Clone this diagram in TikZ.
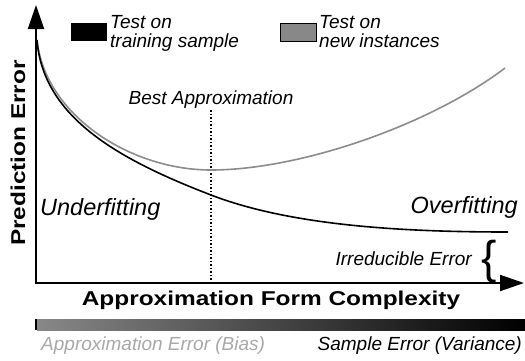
\documentclass[tikz,border=0pt]{standalone}
\usepackage{fontspec}
\usepackage{graphicx}
\setmainfont{Liberation Sans}
\usetikzlibrary{arrows.meta}
\definecolor{curvegray}{RGB}{140,140,140}
\definecolor{boxgray}{RGB}{136,136,136}
\definecolor{biasgray}{RGB}{168,168,168}

\begin{document}
\begin{tikzpicture}[x=1pt, y=-1pt,
  axes/.style={line width=2pt, {Triangle[length=24pt,width=16pt]}-{Triangle[length=24pt,width=16pt]}},
  note/.style={font=\fontsize{19}{19}\selectfont\itshape, inner sep=0pt},
  bignote/.style={font=\fontsize{23.5}{23.5}\selectfont\itshape, inner sep=0pt},
  axislabel/.style={font=\fontsize{20}{20}\selectfont\bfseries, inner sep=0pt}]
  \useasboundingbox (0,0) rectangle (525,360);

  \coordinate (ytop) at (36,5);
  \coordinate (origin) at (36,283);
  \coordinate (xend) at (524,283);
  \coordinate (start) at (37,40);

  % legend
  \fill (71,23) rectangle (107,41);
  \node[note, anchor=north west, align=left] (train) at (110,15.4) {Test on\\training sample};
  \filldraw[fill=boxgray, draw=black, line width=1pt] (280,23) rectangle (316,41);
  \node[note, anchor=north west, align=left] (new) at (319,15.4) {Test on\\new instances};

  % best approximation
  \draw[dotted, line width=1.5pt] (211,110) -- (211,283);
  \node[note, anchor=base] (best) at (211,104) {Best Approximation};

  \draw[curvegray, line width=1.6pt] (start) .. controls (45,115) and (130,170) .. (211,170)
    .. controls (300,170) and (430,125) .. (505,68); % new instances
  \draw[black, line width=1.6pt] (start) .. controls (43,118) and (120,160) .. (211,195)
    .. controls (290,225.4) and (400,232) .. (508,232); % training sample

  \draw[axes] (ytop) |- (xend); % y and x axis

  \node[bignote, anchor=base west] (under) at (40,215) {Underfitting};
  \node[bignote, anchor=base east] (over) at (518,213) {Overfitting};
  \node[note, anchor=base east] (irr) at (472,265) {Irreducible Error};
  \node[inner sep=0pt, font=\fontsize{46}{46}\selectfont] (brace) at (489,262) {\{};

  \node[axislabel, anchor=base] (xlabel) at (271,305) {\scalebox{1.22}[1]{Approximation Form Complexity}};
  \node[axislabel, anchor=base, rotate=90] (ylabel) at (25,153) {\scalebox{1.22}[1]{Prediction Error}};

  % bias / variance bar
  \shade[left color=boxgray, right color=black] (37,319) rectangle (525,330);
  \draw[line width=1.5pt] (36,319) -- (36,330);
  \node[note, anchor=base west, text=biasgray] (bias) at (41,350) {Approximation Error (Bias)};
  \node[note, anchor=base east] (variance) at (522,350) {Sample Error (Variance)};
\end{tikzpicture}
\end{document}
